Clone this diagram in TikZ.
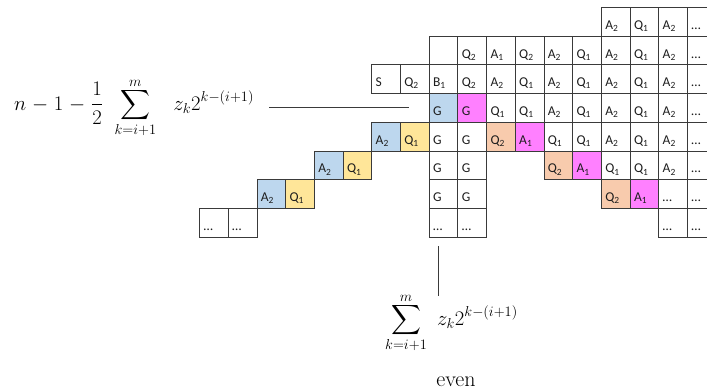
\documentclass[tikz,border=0pt]{standalone}
\usepackage{fontspec}
\usepackage{amsmath}
\newfontfamily\cellfont{Carlito}
\definecolor{cblue}{HTML}{BDD7EE}
\definecolor{cyel}{HTML}{FFE699}
\definecolor{corg}{HTML}{F8CBAD}
\definecolor{cmag}{HTML}{FF80FF}
\definecolor{cline}{HTML}{3A3A3A}
\definecolor{ctext}{HTML}{1E1E1E}
\newcommand\cellAt[5]{\node[cellbox,#4] (#1) at ({371.3+28.7*(#2)},{7+28.7*(#3)}) {#5};}
\newcommand\Ai{A\textsubscript{1}}
\newcommand\Aii{A\textsubscript{2}}
\newcommand\Qi{Q\textsubscript{1}}
\newcommand\Qii{Q\textsubscript{2}}
\newcommand\Bi{B\textsubscript{1}}
\newcommand\dd{…}
\newcommand\tightlimits{\fontdimen9\textfont3=1pt \fontdimen11\textfont3=1.5pt }
\begin{document}
\begin{tikzpicture}[x=1pt,y=-1pt,
  cellbox/.style={draw=cline, line width=0.8pt, fill=white,
    minimum width=28.7pt, minimum height=28.7pt,
    inner ysep=0pt, inner xsep=4pt, text width=20.7pt, align=left,
    text height=22pt, text depth=6.7pt, anchor=north west,
    font=\cellfont\fontsize{13.5}{14}\selectfont, text=ctext},
  fb/.style={fill=cblue}, fy/.style={fill=cyel}, fo/.style={fill=corg},
  fm/.style={fill=cmag}, fw/.style={fill=white},
  formula/.style={anchor=base west, inner sep=0pt, font=\fontsize{20}{24}\selectfont},
  conn/.style={draw=cline, line width=1pt}]
\useasboundingbox (0,0) rectangle (707,391);
\clip (0,0) rectangle (707,391);
% row 0
\cellAt{r0c8}{8}{0}{fw}{\Aii}
\cellAt{r0c9}{9}{0}{fw}{\Qi}
\cellAt{r0c10}{10}{0}{fw}{\Aii}
\cellAt{r0c11}{11}{0}{fw}{\dd}
% row 1
\cellAt{r1c2}{2}{1}{fw}{}
\cellAt{r1c3}{3}{1}{fw}{\Qii}
\cellAt{r1c4}{4}{1}{fw}{\Ai}
\cellAt{r1c5}{5}{1}{fw}{\Qii}
\cellAt{r1c6}{6}{1}{fw}{\Aii}
\cellAt{r1c7}{7}{1}{fw}{\Qi}
\cellAt{r1c8}{8}{1}{fw}{\Aii}
\cellAt{r1c9}{9}{1}{fw}{\Qi}
\cellAt{r1c10}{10}{1}{fw}{\Aii}
\cellAt{r1c11}{11}{1}{fw}{\dd}
% row 2
\cellAt{r2c0}{0}{2}{fw}{S}
\cellAt{r2c1}{1}{2}{fw}{\Qii}
\cellAt{r2c2}{2}{2}{fw}{\Bi}
\cellAt{r2c3}{3}{2}{fw}{\Qii}
\cellAt{r2c4}{4}{2}{fw}{\Aii}
\cellAt{r2c5}{5}{2}{fw}{\Qi}
\cellAt{r2c6}{6}{2}{fw}{\Aii}
\cellAt{r2c7}{7}{2}{fw}{\Qi}
\cellAt{r2c8}{8}{2}{fw}{\Aii}
\cellAt{r2c9}{9}{2}{fw}{\Qi}
\cellAt{r2c10}{10}{2}{fw}{\Aii}
\cellAt{r2c11}{11}{2}{fw}{\dd}
% row 3
\cellAt{r3c2}{2}{3}{fb}{G}
\cellAt{r3c3}{3}{3}{fm}{G}
\cellAt{r3c4}{4}{3}{fw}{\Qi}
\cellAt{r3c5}{5}{3}{fw}{\Qi}
\cellAt{r3c6}{6}{3}{fw}{\Aii}
\cellAt{r3c7}{7}{3}{fw}{\Qi}
\cellAt{r3c8}{8}{3}{fw}{\Aii}
\cellAt{r3c9}{9}{3}{fw}{\Qi}
\cellAt{r3c10}{10}{3}{fw}{\Aii}
\cellAt{r3c11}{11}{3}{fw}{\dd}
% row 4
\cellAt{r4c0}{0}{4}{fb}{\Aii}
\cellAt{r4c1}{1}{4}{fy}{\Qi}
\cellAt{r4c2}{2}{4}{fw}{G}
\cellAt{r4c3}{3}{4}{fw}{G}
\cellAt{r4c4}{4}{4}{fo}{\Qii}
\cellAt{r4c5}{5}{4}{fm}{\Ai}
\cellAt{r4c6}{6}{4}{fw}{\Qi}
\cellAt{r4c7}{7}{4}{fw}{\Qi}
\cellAt{r4c8}{8}{4}{fw}{\Aii}
\cellAt{r4c9}{9}{4}{fw}{\Qi}
\cellAt{r4c10}{10}{4}{fw}{\Aii}
\cellAt{r4c11}{11}{4}{fw}{\dd}
% row 5
\cellAt{r5cm2}{-2}{5}{fb}{\Aii}
\cellAt{r5cm1}{-1}{5}{fy}{\Qi}
\cellAt{r5c2}{2}{5}{fw}{G}
\cellAt{r5c3}{3}{5}{fw}{G}
\cellAt{r5c6}{6}{5}{fo}{\Qii}
\cellAt{r5c7}{7}{5}{fm}{\Ai}
\cellAt{r5c8}{8}{5}{fw}{\Qi}
\cellAt{r5c9}{9}{5}{fw}{\Qi}
\cellAt{r5c10}{10}{5}{fw}{\Aii}
\cellAt{r5c11}{11}{5}{fw}{\dd}
% row 6
\cellAt{r6cm4}{-4}{6}{fb}{\Aii}
\cellAt{r6cm3}{-3}{6}{fy}{\Qi}
\cellAt{r6c2}{2}{6}{fw}{G}
\cellAt{r6c3}{3}{6}{fw}{G}
\cellAt{r6c8}{8}{6}{fo}{\Qii}
\cellAt{r6c9}{9}{6}{fm}{\Ai}
\cellAt{r6c10}{10}{6}{fw}{\dd}
\cellAt{r6c11}{11}{6}{fw}{\dd}
% row 7
\cellAt{r7cm6}{-6}{7}{fw}{\dd}
\cellAt{r7cm5}{-5}{7}{fw}{\dd}
\cellAt{r7c2}{2}{7}{fw}{\dd}
\cellAt{r7c3}{3}{7}{fw}{\dd}
\cellAt{r7c10}{10}{7}{fw}{\dd}
\cellAt{r7c11}{11}{7}{fw}{\dd}
% formulas
\node[formula] (leftf) at (14,110)
  {$\tightlimits\medmuskip=5mu\displaystyle n-1-\frac{1}{2}\mkern7mu\sum_{k=i+1}^{m}\mkern12mu z_k 2^{k-(i+1)}$};
\coordinate (hl0) at (269,107);
\coordinate (hl1) at (409,107);
\draw[conn] (hl0) -- (hl1);
\node[formula] (botf) at (385,325)
  {$\tightlimits\displaystyle \sum_{k=i+1}^{m}\mkern6mu z_k 2^{k-(i+1)}$};
\coordinate (vt) at (438,246);
\coordinate (vb) at (438,296);
\draw[conn] (vt) -- (vb);
\node[anchor=base, inner sep=0pt, font=\fontsize{22}{26}\selectfont] (even) at (456,386.5) {even};
\end{tikzpicture}
\end{document}
